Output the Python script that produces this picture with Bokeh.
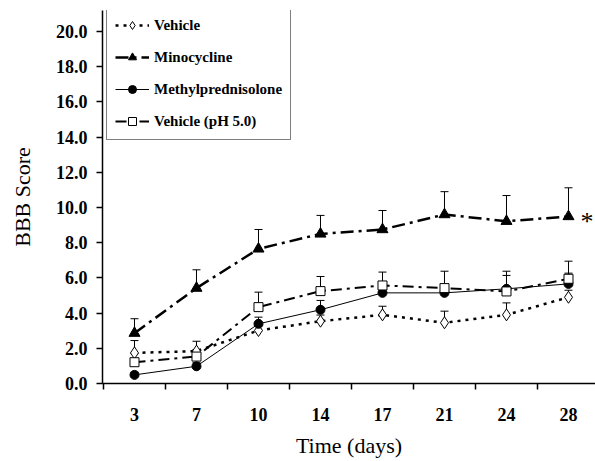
from bokeh.plotting import figure
from bokeh.models import (ColumnDataSource, Whisker, TeeHead, FixedTicker, Range1d,
                          Label, NumeralTickFormatter, Legend, LegendItem)
from bokeh.embed import file_html
from bokeh.resources import INLINE

days = ["3", "7", "10", "14", "17", "21", "24", "28"]

vehicle = [1.74, 1.84, 3.01, 3.54, 3.90, 3.45, 3.90, 4.90]
vehicle_sem = [0.70, 0.56, 0.30, 0.35, 0.49, 0.66, 0.68, 0.40]

minocycline = [2.86, 5.42, 7.65, 8.50, 8.75, 9.60, 9.22, 9.49]
minocycline_sem = [0.82, 1.04, 1.10, 1.05, 1.08, 1.30, 1.46, 1.63]

methylpred = [0.49, 0.98, 3.39, 4.19, 5.15, 5.15, 5.38, 5.66]
methylpred_sem = [0.15, 0.20, 0.38, 0.53, 0.30, 0.30, 0.76, 1.29]

vehicle_ph5 = [1.21, 1.53, 4.34, 5.25, 5.57, 5.42, 5.23, 5.95]
vehicle_ph5_sem = [0.50, 0.40, 0.85, 0.83, 0.76, 0.96, 1.15, 0.32]

y_ticks = [0, 2, 4, 6, 8, 10, 12, 14, 16, 18, 20]

x = list(range(len(days)))

SERIF = "Liberation Serif"

W, H = 595, 461
B_LEFT, B_TOP, B_BOTTOM = 102, 10, 78
FRAME_H = H - B_TOP - B_BOTTOM
FRAME_W = W - B_LEFT
PX_Y = 17.6
PX_X = 62.0

p = figure(width=W, height=H, output_backend="svg", toolbar_location=None,
           x_range=Range1d(-0.516, -0.516 + FRAME_W / PX_X),
           y_range=Range1d(0, FRAME_H / PX_Y),
           min_border_left=B_LEFT, min_border_right=0, min_border_top=B_TOP,
           min_border_bottom=B_BOTTOM, background_fill_color="white",
           border_fill_color="white")
p.outline_line_color = None
p.grid.visible = False

series = [
    ("Vehicle", vehicle, vehicle_sem,
     dict(line_dash="3 5", line_width=2.5),
     dict(marker="diamond", size=12, fill_color="white", line_width=1)),
    ("Minocycline", minocycline, minocycline_sem,
     dict(line_dash="13 5 3 5", line_width=2.5),
     dict(marker="triangle", size=11, fill_color="black", line_width=1)),
    ("Methylprednisolone", methylpred, methylpred_sem,
     dict(line_dash="solid", line_width=1),
     dict(marker="circle", size=9, fill_color="black", line_width=1)),
    ("Vehicle (pH 5.0)", vehicle_ph5, vehicle_ph5_sem,
     dict(line_dash="11 5 3 5", line_width=2),
     dict(marker="square", size=9, fill_color="white", line_width=1)),
]

items = []
for name, vals, sem, lstyle, mstyle in series:
    src = ColumnDataSource(dict(x=x, y=vals,
                                upper=[v + s for v, s in zip(vals, sem)]))
    w = Whisker(base="x", lower="y", upper="upper", source=src,
                line_color="black", line_width=1, lower_head=None,
                upper_head=TeeHead(size=8, line_color="black", line_width=1))
    p.add_layout(w)
    r1 = p.line("x", "y", source=src, line_color="black", **lstyle)
    r2 = p.scatter("x", "y", source=src, line_color="black", **mstyle)
    items.append(LegendItem(label=name, renderers=[r1, r2]))

LEG_H = 2 * 8 + 4 * 20 + 3 * 12
legend = Legend(items=items, location=(4, FRAME_H - LEG_H + 2), margin=0, padding=8,
                spacing=12, label_height=20, glyph_height=20, glyph_width=34,
                label_standoff=5, label_text_font=SERIF,
                label_text_font_style="bold", label_text_font_size="15px",
                label_text_color="black",
                border_line_color="black", border_line_width=1.5,
                background_fill_color="white", background_fill_alpha=1)
p.add_layout(legend)

p.add_layout(Label(x=7.30, y=9.2, text="*", text_font=SERIF,
                   text_font_size="26px", text_align="center",
                   text_baseline="middle", text_color="black"))

# y axis
ya = p.yaxis[0]
ya.ticker = FixedTicker(ticks=y_ticks, minor_ticks=[])
ya.formatter = NumeralTickFormatter(format="0.0")
ya.major_tick_out = 6
ya.major_tick_in = 0
ya.minor_tick_out = 0
ya.minor_tick_in = 0
ya.major_label_standoff = 9
ya.axis_line_width = 1.5
ya.axis_line_color = "black"
ya.major_tick_line_width = 1.5
ya.major_tick_line_color = "black"
ya.major_label_text_font = SERIF
ya.major_label_text_font_style = "bold"
ya.major_label_text_font_size = "18px"
ya.major_label_text_color = "black"
ya.axis_label = "BBB Score"
ya.axis_label_text_font = SERIF
ya.axis_label_text_font_style = "normal"
ya.axis_label_text_font_size = "22px"
ya.axis_label_text_color = "black"
ya.axis_label_standoff = 18

# x axis
xa = p.xaxis[0]
xa.ticker = FixedTicker(ticks=x, minor_ticks=[i - 0.5 for i in range(len(days) + 1)])
xa.major_label_overrides = {i: d for i, d in enumerate(days)}
xa.major_tick_out = 0
xa.major_tick_in = 0
xa.minor_tick_out = 6
xa.minor_tick_in = 0
xa.minor_tick_line_width = 1.5
xa.minor_tick_line_color = "black"
xa.axis_line_width = 1.5
xa.axis_line_color = "black"
xa.major_label_standoff = 18
xa.major_label_text_font = SERIF
xa.major_label_text_font_style = "bold"
xa.major_label_text_font_size = "18px"
xa.major_label_text_color = "black"
xa.axis_label = "Time (days)"
xa.axis_label_text_font = SERIF
xa.axis_label_text_font_style = "normal"
xa.axis_label_text_font_size = "22px"
xa.axis_label_text_color = "black"
xa.axis_label_standoff = 9

open("out.html", "w").write(file_html(p, INLINE))
